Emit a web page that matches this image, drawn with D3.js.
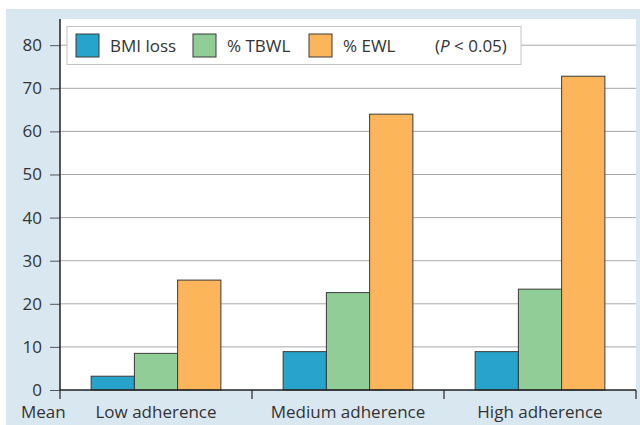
<!DOCTYPE html>
<html>
<head>
<meta charset="utf-8">
<script src="https://cdn.jsdelivr.net/npm/d3@7"></script>
<style>
  body { margin: 0; background: #fff; }
  text { font-family: "Open Sans", "Noto Sans", sans-serif; fill: #333; }
</style>
</head>
<body>
<div id="chart" style="width:640px;height:425px;"></div>
<script>
// data
const groups = ["Low adherence", "Medium adherence", "High adherence"];
const series = ["BMI loss", "% TBWL", "% EWL"];
const colors = ["#28a3cb", "#91cd97", "#fdb55b"];
const bmiLoss = [3.2, 8.9, 8.9];
const tbwl = [8.5, 22.6, 23.4];
const ewl = [25.5, 64.0, 72.8];
const yTicks = [0, 10, 20, 30, 40, 50, 60, 70, 80];

const values = [bmiLoss, tbwl, ewl];
const rows = groups.map((g, i) => ({group: g, vals: values.map(v => v[i])}));

const width = 640, height = 425;
const margin = {top: 19, left: 60, right: 4, bottom: 35};
const fontSize = "17px";

const svg = d3.select("#chart").append("svg")
    .attr("width", width)
    .attr("height", height);

// light blue panel + white plot area
svg.append("rect")
    .attr("x", 6).attr("y", 9)
    .attr("width", width - 6).attr("height", height - 9)
    .attr("fill", "#d9e7f0");
svg.append("rect")
    .attr("x", margin.left).attr("y", margin.top)
    .attr("width", width - margin.right - margin.left)
    .attr("height", height - margin.bottom - margin.top)
    .attr("fill", "#fff");

const xScale = d3.scaleBand()
    .domain(groups)
    .range([margin.left, width - margin.right]);

const xInner = d3.scaleBand()
    .domain(series)
    .range([0, xScale.bandwidth()])
    .paddingOuter(0.72);

const yScale = d3.scaleLinear()
    .domain([0, 80])
    .range([height - margin.bottom, height - margin.bottom - 344.8]);

// gridlines
svg.append("g")
    .selectAll("line")
    .data(yTicks.slice(1))
    .join("line")
    .attr("x1", margin.left).attr("x2", width - margin.right)
    .attr("y1", d => yScale(d)).attr("y2", d => yScale(d))
    .attr("stroke", "#a8a8a8")
    .attr("stroke-width", 1);

// bars
const g = svg.append("g")
    .selectAll("g")
    .data(rows)
    .join("g")
    .attr("transform", d => `translate(${xScale(d.group)},0)`);

g.selectAll("rect")
    .data(d => d.vals.map((v, i) => ({key: series[i], v: v, i: i})))
    .join("rect")
    .attr("x", d => xInner(d.key))
    .attr("y", d => yScale(d.v))
    .attr("width", xInner.bandwidth())
    .attr("height", d => yScale(0) - yScale(d.v))
    .attr("fill", d => colors[d.i])
    .attr("stroke", "#3a3a3a")
    .attr("stroke-width", 1);

// y axis
const yAxis = svg.append("g")
    .attr("transform", `translate(${margin.left},0)`)
    .call(d3.axisLeft(yScale).tickValues(yTicks).tickSize(10).tickPadding(8));
yAxis.select(".domain").remove();
yAxis.selectAll(".tick line").attr("stroke", "#555");
yAxis.selectAll("text")
    .style("font-size", fontSize)
    .attr("fill", "#333");
svg.append("line")
    .attr("x1", margin.left).attr("x2", margin.left)
    .attr("y1", margin.top).attr("y2", yScale(0))
    .attr("stroke", "#222").attr("stroke-width", 1.5);

// x axis
const xAxisLine = svg.append("g")
    .attr("transform", `translate(0,${yScale(0)})`);
xAxisLine.append("line")
    .attr("x1", margin.left).attr("x2", width - margin.right)
    .attr("stroke", "#222").attr("stroke-width", 1.5);
xAxisLine.selectAll(".sep")
    .data(groups.concat(["end"]))
    .join("line")
    .attr("class", "sep")
    .attr("x1", (d, i) => i < groups.length ? xScale(d) : xScale.range()[1])
    .attr("x2", (d, i) => i < groups.length ? xScale(d) : xScale.range()[1])
    .attr("y1", 0).attr("y2", 9)
    .attr("stroke", "#222").attr("stroke-width", 1.2);
xAxisLine.selectAll(".lbl")
    .data(groups)
    .join("text")
    .attr("class", "lbl")
    .attr("x", d => xScale(d) + xScale.bandwidth() / 2)
    .attr("y", 28)
    .attr("text-anchor", "middle")
    .style("font-size", fontSize)
    .text(d => d);
xAxisLine.append("text")
    .attr("x", 21).attr("y", 28)
    .style("font-size", fontSize)
    .text("Mean");

// legend
const legend = svg.append("g");
legend.append("rect")
    .attr("x", 67).attr("y", 26.5)
    .attr("width", 454).attr("height", 38)
    .attr("fill", "#fff")
    .attr("stroke", "#c4c4c4")
    .attr("stroke-width", 1);
const legX = [76, 193, 309];
series.forEach((s, i) => {
    legend.append("rect")
        .attr("x", legX[i]).attr("y", 34)
        .attr("width", 23).attr("height", 23)
        .attr("fill", colors[i])
        .attr("stroke", "#3a3a3a")
        .attr("stroke-width", 1);
    legend.append("text")
        .attr("x", legX[i] + 34).attr("y", 52)
        .style("font-size", fontSize)
        .text(s);
});
const pText = legend.append("text")
    .attr("x", 435).attr("y", 52)
    .style("font-size", fontSize);
pText.append("tspan").text("(");
pText.append("tspan").style("font-style", "italic").text("P");
pText.append("tspan").text(" < 0.05)");
</script>
</body>
</html>
